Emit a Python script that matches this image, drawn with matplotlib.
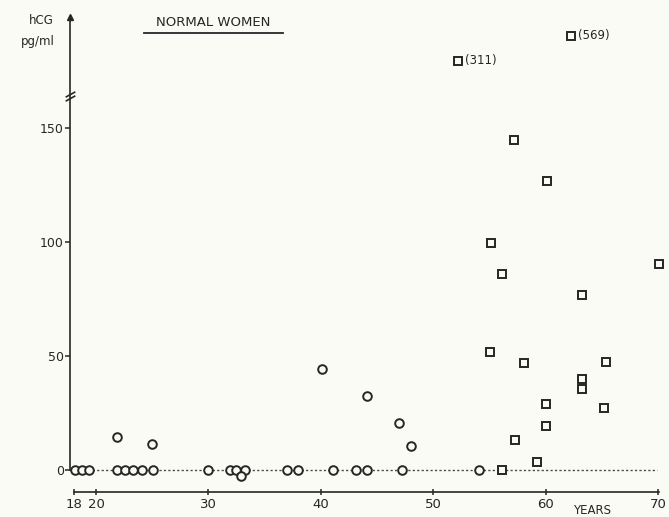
import numpy as np
import matplotlib
matplotlib.use("Agg")
import matplotlib.pyplot as plt
from matplotlib.lines import Line2D

# ---------------- data ----------------
circle_age = [18.1, 18.75, 19.4, 21.9, 22.6, 23.3, 24.1, 25.1, 30.0, 31.9,
              32.5, 33.3, 32.9, 37.0, 38.0, 41.1, 43.1, 44.1, 47.2, 54.1,
              21.9, 25.0, 40.1, 44.1, 47.0, 48.0]
circle_val = [0, 0, 0, 0, 0, 0, 0, 0, 0, 0,
              0, 0, -2.6, 0, 0, 0, 0, 0, 0, 0,
              14.6, 11.4, 44.2, 32.5, 20.7, 10.5]

square_age = [56.1, 55.05, 58.1, 63.2, 63.2, 65.35, 65.2, 60.0, 60.0, 57.3,
              59.2, 57.2, 60.1, 55.1, 56.1, 70.1, 63.2, 52.2, 62.3]
square_val = [0, 51.9, 47.1, 39.8, 35.4, 47.5, 27.0, 28.8, 19.3, 13.2,
              3.6, 144.7, 126.8, 99.4, 86.0, 90.4, 76.8, 311, 569]

outlier_age = [52.2, 62.3]
outlier_val = [311, 569]
outlier_lbl = ["(311)", "(569)"]

x_ticks = [18, 20, 30, 40, 50, 60, 70]
y_ticks = [0, 50, 100, 150]

# ---------------- broken y scale ----------------
BRK = 168.0
K = 18.5

def fwd(v):
    v = np.asarray(v, dtype=float)
    return np.where(v <= BRK, v, BRK + K * np.log(np.maximum(v, BRK) / BRK))

def inv(y):
    y = np.asarray(y, dtype=float)
    return np.where(y <= BRK, y, BRK * np.exp((np.maximum(y, BRK) - BRK) / K))

W, H = 669, 517
ink = "#262626"
bg = "#fbfbf6"

fig = plt.figure(figsize=(W / 100, H / 100), dpi=100, facecolor=bg)
ax = fig.add_axes([0, 0, 1, 1], facecolor=bg)
ax.set_yscale("function", functions=(fwd, inv))

# pixel calibration (layout)
px_per_year = 11.24
x_left = 20 - 96 / px_per_year
x_right = 20 + (W - 96) / px_per_year
px_per_unit = 2.28
y_bot = (470 - H) / px_per_unit
y_top_lin = 470 / px_per_unit
ax.set_xlim(x_left, x_right)
ax.set_ylim(y_bot, float(inv(y_top_lin)))

def px2x(px):
    return 20 + (px - 96) / px_per_year

def py2y(py):
    return float(inv((470 - py) / px_per_unit))

yaxis_x = px2x(70)
arrow_top = py2y(17)

# spines
for s in ("top", "right"):
    ax.spines[s].set_visible(False)
ax.spines["left"].set_position(("data", yaxis_x))
ax.spines["left"].set_bounds(0, arrow_top)
ax.spines["bottom"].set_position(("data", py2y(492)))
ax.spines["bottom"].set_bounds(18, 70.1)
for s in ("left", "bottom"):
    ax.spines[s].set_color(ink)
    ax.spines[s].set_linewidth(1.2)

ax.set_xticks(x_ticks)
ax.set_xticklabels([str(t) for t in x_ticks])
ax.set_yticks(y_ticks)
ax.set_yticklabels([str(t) for t in y_ticks])
ax.minorticks_off()
ax.tick_params(axis="x", direction="inout", length=5, width=1.1, colors=ink,
               labelsize=9.5, pad=2)
ax.tick_params(axis="y", direction="out", length=3.5, width=1.1, colors=ink,
               labelsize=9, pad=1)

# arrow head on y axis
ax.plot([yaxis_x], [arrow_top], marker="^", markersize=5, color=ink,
        clip_on=False, zorder=5)

# axis break marks
brk_mark = [(-1, -0.55), (1, 0.55)]
for py in (94.5, 98.5):
    ax.plot([yaxis_x], [py2y(py)], marker=brk_mark, markersize=7,
            markeredgewidth=1.2, color=ink, linestyle="none", zorder=5)

# dotted zero line
ax.hlines(0, yaxis_x, 69.9, colors="#4a4a4a", linestyles=(0, (1.6, 1.6)),
          linewidth=1.0, zorder=1)

# markers
ax.plot(circle_age, circle_val, linestyle="none", marker="o", markersize=6.2,
        markerfacecolor=bg, markeredgecolor=ink, markeredgewidth=1.4, zorder=3)
ax.plot(square_age, square_val, linestyle="none", marker="s", markersize=5.2,
        markerfacecolor=bg, markeredgecolor=ink, markeredgewidth=1.4, zorder=3)

for a, v, t in zip(outlier_age, outlier_val, outlier_lbl):
    ax.annotate(t, (a, v), xytext=(5, 0), textcoords="offset points",
                ha="left", va="center", fontsize=8.5, color=ink)

# texts
def fx(px):
    return px / W

def fy(py):
    return 1 - py / H

fig.text(fx(41), fy(21), "hCG", ha="center", va="center", fontsize=8.5, color=ink)
fig.text(fx(38), fy(42), "pg/ml", ha="center", va="center", fontsize=8.5, color=ink)
fig.text(fx(213), fy(22), "NORMAL WOMEN", ha="center", va="center",
         fontsize=9.5, color=ink)
fig.add_artist(Line2D([fx(144), fx(283)], [fy(32.5), fy(32.5)],
                      color=ink, linewidth=1.3))
fig.text(fx(573), fy(511), "YEARS", ha="left", va="center", fontsize=8.5,
         color=ink)

fig.savefig("out.png", dpi=100, facecolor=bg)
